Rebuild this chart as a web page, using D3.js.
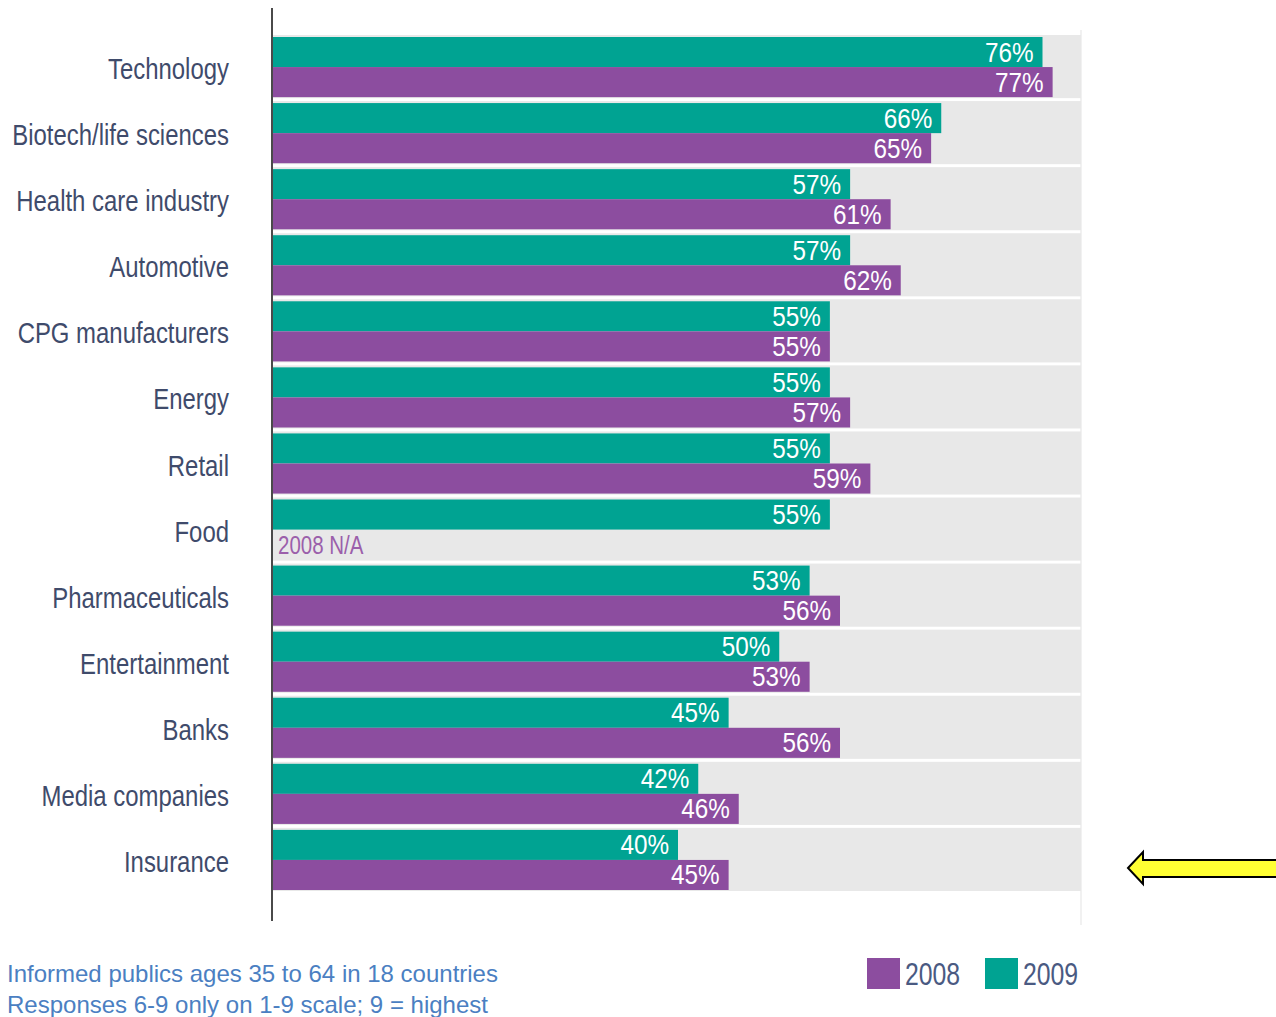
<!DOCTYPE html>
<html>
<head>
<meta charset="utf-8">
<script src="https://cdn.jsdelivr.net/npm/d3@7"></script>
<style>
  body { margin: 0; background: #fff; }
  svg { display: block; }
  text { font-family: "Liberation Sans", Arial, sans-serif; }
</style>
</head>
<body>
<div class="content"></div>
<script>
(function() {

  // Data
  var categories = ['Technology', 'Biotech/life sciences', 'Health care industry', 'Automotive',
    'CPG manufacturers', 'Energy', 'Retail', 'Food', 'Pharmaceuticals', 'Entertainment',
    'Banks', 'Media companies', 'Insurance'];
  var values2009 = [76, 66, 57, 57, 55, 55, 55, 55, 53, 50, 45, 42, 40];
  var values2008 = [77, 65, 61, 62, 55, 57, 59, null, 56, 53, 56, 46, 45];
  var seriesNames = ['2009', '2008'];
  var legendNames = ['2008', '2009'];
  var notes = ['Informed publics ages 35 to 64 in 18 countries',
    'Responses 6-9 only on 1-9 scale; 9 = highest'];

  // Design
  var width = 1276, height = 1017;
  var teal = '#00a392', purple = '#8c4d9f', gray = '#e8e8e8';
  var colors = { '2009': teal, '2008': purple };

  var rows = categories.map(function(c, i) {
    return { name: c, '2009': values2009[i], '2008': values2008[i] };
  });

  // squeeze text horizontally, no narrow font installed
  function condense(sel, sx) {
    sel.each(function() {
      var t = d3.select(this);
      var tx = +t.attr('x') || 0, ty = +t.attr('y') || 0;
      t.attr('x', 0).attr('y', 0)
        .attr('transform', 'translate(' + tx + ',' + ty + ') scale(' + sx + ',1)');
    });
  }

  // Scales
  var x = d3.scaleLinear().domain([0, 80]).range([273, 1083]);
  var y = d3.scaleBand().domain(categories).range([37, 890]).paddingInner(0.09);
  var ySeries = d3.scaleBand().domain(seriesNames).range([0, y.bandwidth()]);

  var svg = d3.select('.content').append('svg')
      .attr('width', width)
      .attr('height', height);

  // faint right gridline
  svg.append('line')
      .attr('x1', x(80) - 2).attr('x2', x(80) - 2)
      .attr('y1', 30).attr('y2', 925)
      .attr('stroke', '#ececec').attr('stroke-width', 1.5);

  var row = svg.selectAll('.row')
      .data(rows)
      .enter()
      .append('g')
      .attr('class', 'row')
      .attr('transform', function(d) { return 'translate(0,' + y(d.name) + ')'; });

  row.append('rect')
      .attr('x', x(0))
      .attr('y', -2)
      .attr('width', x(80) - x(0) - 2)
      .attr('height', y.bandwidth() + 3)
      .attr('fill', gray);

  row.each(function(d) {
    var g = d3.select(this);
    seriesNames.forEach(function(s) {
      var v = d[s];
      var cy = ySeries(s) + ySeries.bandwidth() / 2;
      if (v == null) {
        g.append('text')
            .attr('x', x(0) + 5)
            .attr('y', cy + 9)
            .attr('font-size', 25)
            .attr('fill', '#9b5fab')
            .text(s + ' N/A')
            .call(condense, 0.82);
        return;
      }
      g.append('rect')
          .attr('x', x(0))
          .attr('y', ySeries(s))
          .attr('width', x(v) - x(0))
          .attr('height', ySeries.bandwidth())
          .attr('fill', colors[s]);
      g.append('text')
          .attr('x', x(v) - 9)
          .attr('y', cy + 9.5)
          .attr('text-anchor', 'end')
          .attr('font-size', 27)
          .attr('fill', '#fff')
          .text(v + '%')
          .call(condense, 0.9);
    });
  });

  // Category axis
  var axis = svg.append('g')
      .attr('transform', 'translate(' + (x(0) - 1) + ',0)')
      .call(d3.axisLeft(y).tickSize(0).tickPadding(43));
  axis.select('.domain').remove();
  axis.selectAll('text')
      .attr('dy', null)
      .attr('y', 12)
      .attr('font-size', 29)
      .attr('fill', '#3f4b6b')
      .call(condense, 0.825);

  svg.append('line')
      .attr('x1', x(0) - 1).attr('x2', x(0) - 1)
      .attr('y1', 8).attr('y2', 921)
      .attr('stroke', '#4a4a4a').attr('stroke-width', 2);

  // Notes
  svg.selectAll('.note')
      .data(notes)
      .enter()
      .append('text')
      .attr('class', 'note')
      .attr('x', 7)
      .attr('y', function(d, i) { return 982 + i * 31; })
      .attr('font-size', 24)
      .attr('fill', '#4b7fc2')
      .text(function(d) { return d; });

  // Legend
  var legend = svg.selectAll('.legend')
      .data(legendNames)
      .enter()
      .append('g')
      .attr('class', 'legend')
      .attr('transform', function(d, i) { return 'translate(' + (867 + i * 118) + ',958)'; });
  legend.append('rect')
      .attr('width', 33)
      .attr('height', 31)
      .attr('fill', function(d) { return colors[d]; });
  legend.append('text')
      .attr('x', 38)
      .attr('y', 27)
      .attr('font-size', 31)
      .attr('fill', '#4a5a82')
      .text(function(d) { return d; })
      .call(condense, 0.8);

  // Yellow arrow
  var ay = 868;
  svg.append('path')
      .attr('d', 'M1128,' + ay + ' L1143,' + (ay - 16) + ' L1143,' + (ay - 8) +
        ' L1280,' + (ay - 8) + ' L1280,' + (ay + 9) + ' L1143,' + (ay + 9) +
        ' L1143,' + (ay + 16) + ' Z')
      .attr('fill', '#ffff33')
      .attr('stroke', '#000')
      .attr('stroke-width', 2)
      .attr('stroke-linejoin', 'miter');

})();
</script>
</body>
</html>
